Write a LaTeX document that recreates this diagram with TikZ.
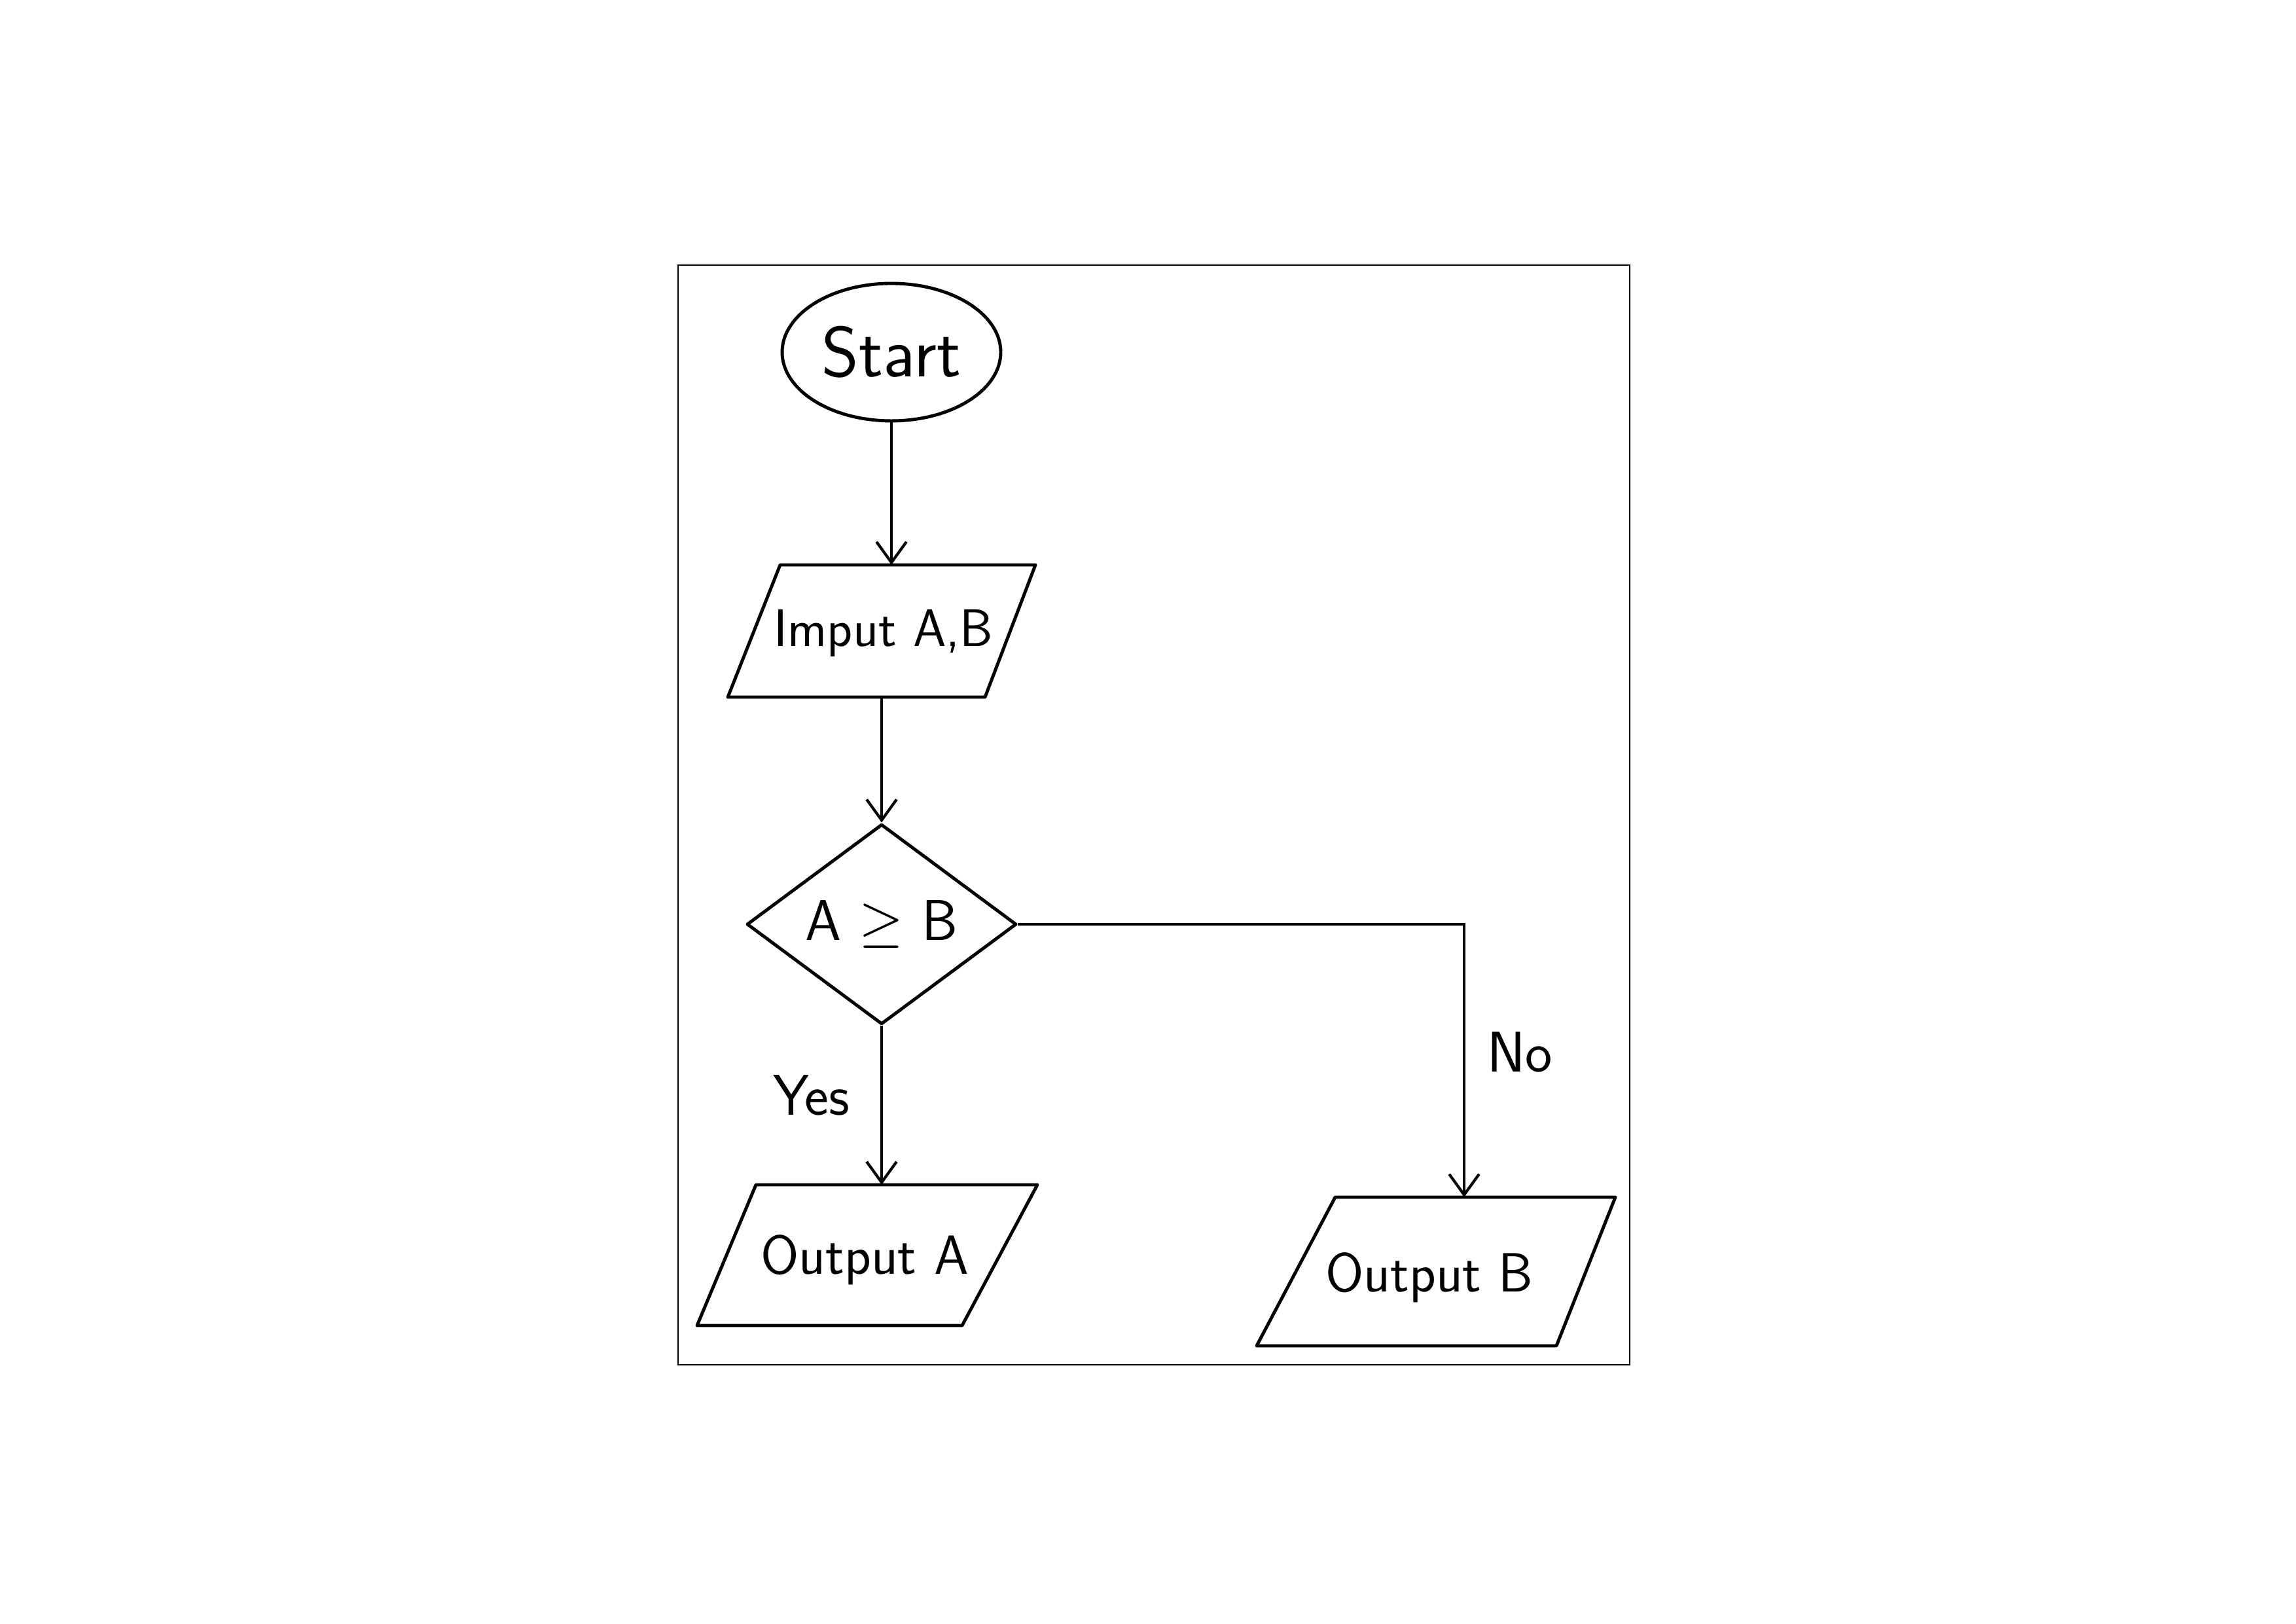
\documentclass[tikz,border=0pt]{standalone}
\usetikzlibrary{shapes.geometric,arrows.meta}
\begin{document}
\begin{tikzpicture}[
  every node/.style={font=\sffamily\fontsize{24}{29}\selectfont},
  shapeline/.style={draw=black, line width=1.4pt, line join=round},
  startbox/.style={shapeline, ellipse, minimum width=3.34cm, minimum height=2.1cm, inner sep=0pt},
  decbox/.style={shapeline, diamond, minimum width=4.12cm, minimum height=3.0cm, inner sep=0pt},
  flow/.style={draw=black, line width=1.4pt, -{Straight Barb[length=9pt,width=13pt,line width=1.2pt]}},
  lbl/.style={inner sep=0pt}
]
\useasboundingbox (0,0) rectangle (35.08,24.80);
\node[draw=black, line width=0.6pt, minimum width=14.54cm, minimum height=16.80cm, inner sep=0pt] (frame) at (17.63,12.35) {};
% Start
\node[startbox, font=\sffamily\fontsize{31}{36}\selectfont] (start) at (13.62,19.42) {Start};
% Input parallelogram
\coordinate (inTL) at (11.92,16.17);
\coordinate (inTR) at (15.82,16.17);
\coordinate (inBR) at (15.05,14.15);
\coordinate (inBL) at (11.12,14.15);
\draw[shapeline] (inTL) -- (inTR) -- (inBR) -- (inBL) -- cycle;
\node[font=\sffamily\fontsize{23}{28}\selectfont] (in) at (13.50,15.13) {Imput A,B};
\coordinate (inT) at (13.60,16.17);
\coordinate (inB) at (13.47,14.15);
% Decision
\node[decbox, font=\sffamily\fontsize{25}{30}\selectfont] (dec) at (13.47,10.68) {A $\geq$ B};
% Output A
\coordinate (oaTL) at (11.55,6.70);
\coordinate (oaTR) at (15.85,6.70);
\coordinate (oaBR) at (14.70,4.55);
\coordinate (oaBL) at (10.65,4.55);
\draw[shapeline] (oaTL) -- (oaTR) -- (oaBR) -- (oaBL) -- cycle;
\node (outA) at (13.21,5.55) {Output A};
% Output B
\coordinate (obTL) at (20.40,6.51);
\coordinate (obTR) at (24.68,6.51);
\coordinate (obBR) at (23.78,4.24);
\coordinate (obBL) at (19.20,4.24);
\draw[shapeline] (obTL) -- (obTR) -- (obBR) -- (obBL) -- cycle;
\node (outB) at (21.84,5.28) {Output B};
% connectors
\coordinate (bend) at (22.37,10.68);
\draw[flow] (start.south) -- (start.south |- inT);
\draw[flow] (inB) -- (dec.north);
\draw[flow] (dec.south) -- (dec.south |- oaTL);
\draw[flow] (dec.east) -- (bend) -- (bend |- obTL);
\node[lbl, font=\sffamily\fontsize{25}{30}\selectfont] (yes) at (12.40,8.07) {Yes};
\node[lbl, font=\sffamily\fontsize{25}{30}\selectfont] (no) at (23.22,8.73) {No};
\end{tikzpicture}
\end{document}
